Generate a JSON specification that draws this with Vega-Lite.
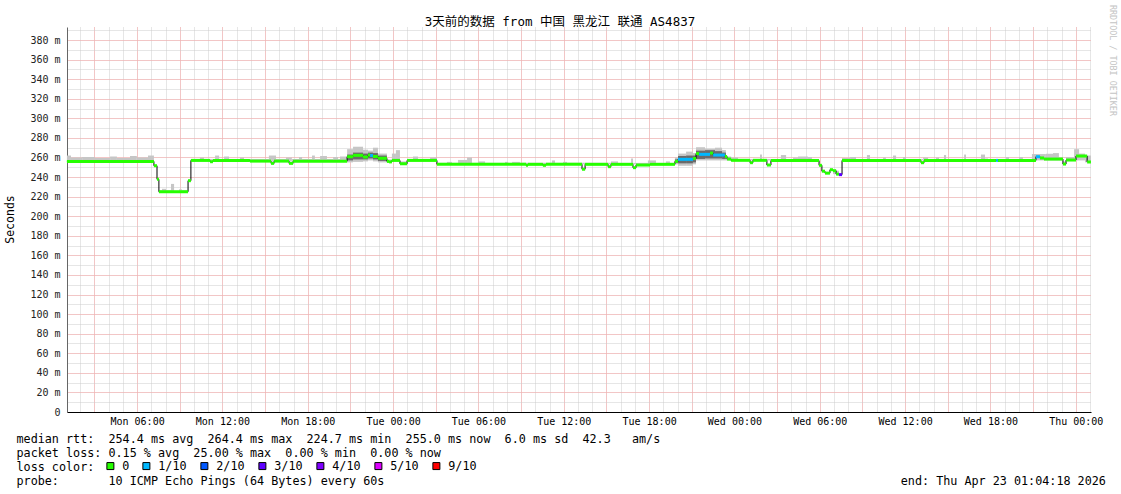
{
"$schema": "https://vega.github.io/schema/vega-lite/v6.json",
"width": 1024, "height": 385,
"autosize": {"type": "none"},
"padding": {"left": 67, "top": 27, "right": 30, "bottom": 82},
"background": "white",
"title": {"text": "3天前的数据 from 中国 黑龙江 联通 AS4837", "font": "DejaVu Sans Mono, Noto Sans CJK SC", "fontSize": 12.5, "fontWeight": "normal", "color": "#000", "anchor": "middle", "frame": "group", "dx": -19, "baseline": "middle", "offset": -30},
"datasets": {
"median": [
{"t":"2026-04-20T01:04Z","t2":"2026-04-20T07:11Z","m":256,"loss":"0"},
{"t":"2026-04-20T07:11Z","t2":"2026-04-20T07:24Z","m":251.6,"loss":"0"},
{"t":"2026-04-20T07:24Z","t2":"2026-04-20T07:32Z","m":237.7,"loss":"0"},
{"t":"2026-04-20T07:32Z","t2":"2026-04-20T09:35Z","m":225,"loss":"0"},
{"t":"2026-04-20T09:35Z","t2":"2026-04-20T09:47Z","m":236.3,"loss":"0"},
{"t":"2026-04-20T09:47Z","t2":"2026-04-20T11:08Z","m":257,"loss":"0"},
{"t":"2026-04-20T11:08Z","t2":"2026-04-20T11:20Z","m":255.7,"loss":"0"},
{"t":"2026-04-20T11:20Z","t2":"2026-04-20T13:56Z","m":257,"loss":"0"},
{"t":"2026-04-20T13:56Z","t2":"2026-04-20T15:25Z","m":256.3,"loss":"0"},
{"t":"2026-04-20T15:25Z","t2":"2026-04-20T15:38Z","m":254,"loss":"0"},
{"t":"2026-04-20T15:38Z","t2":"2026-04-20T16:41Z","m":256.3,"loss":"0"},
{"t":"2026-04-20T16:41Z","t2":"2026-04-20T16:58Z","m":254,"loss":"0"},
{"t":"2026-04-20T16:58Z","t2":"2026-04-20T20:46Z","m":256.2,"loss":"0"},
{"t":"2026-04-20T20:46Z","t2":"2026-04-20T21:11Z","m":260.8,"loss":"0"},
{"t":"2026-04-20T21:11Z","t2":"2026-04-20T21:53Z","m":262.2,"loss":"0"},
{"t":"2026-04-20T21:53Z","t2":"2026-04-20T22:14Z","m":260.5,"loss":"0"},
{"t":"2026-04-20T22:14Z","t2":"2026-04-20T22:23Z","m":262.5,"loss":"0"},
{"t":"2026-04-20T22:23Z","t2":"2026-04-20T22:35Z","m":262,"loss":"1/10"},
{"t":"2026-04-20T22:35Z","t2":"2026-04-20T22:56Z","m":261,"loss":"0"},
{"t":"2026-04-20T22:56Z","t2":"2026-04-20T23:34Z","m":259.2,"loss":"0"},
{"t":"2026-04-20T23:34Z","t2":"2026-04-20T23:43Z","m":256,"loss":"0"},
{"t":"2026-04-20T23:43Z","t2":"2026-04-20T23:55Z","m":255.5,"loss":"0"},
{"t":"2026-04-20T23:55Z","t2":"2026-04-21T00:29Z","m":257,"loss":"0"},
{"t":"2026-04-21T00:29Z","t2":"2026-04-21T00:59Z","m":253.6,"loss":"0"},
{"t":"2026-04-21T00:59Z","t2":"2026-04-21T03:05Z","m":257,"loss":"0"},
{"t":"2026-04-21T03:05Z","t2":"2026-04-21T09:21Z","m":253,"loss":"0"},
{"t":"2026-04-21T09:21Z","t2":"2026-04-21T09:29Z","m":252,"loss":"0"},
{"t":"2026-04-21T09:29Z","t2":"2026-04-21T10:32Z","m":253,"loss":"0"},
{"t":"2026-04-21T10:32Z","t2":"2026-04-21T10:45Z","m":252,"loss":"0"},
{"t":"2026-04-21T10:45Z","t2":"2026-04-21T13:17Z","m":253,"loss":"0"},
{"t":"2026-04-21T13:17Z","t2":"2026-04-21T13:30Z","m":248,"loss":"0"},
{"t":"2026-04-21T13:30Z","t2":"2026-04-21T15:07Z","m":253,"loss":"0"},
{"t":"2026-04-21T15:07Z","t2":"2026-04-21T15:19Z","m":250.6,"loss":"0"},
{"t":"2026-04-21T15:19Z","t2":"2026-04-21T16:52Z","m":253,"loss":"0"},
{"t":"2026-04-21T16:52Z","t2":"2026-04-21T17:05Z","m":249.6,"loss":"0"},
{"t":"2026-04-21T17:05Z","t2":"2026-04-21T18:04Z","m":252.3,"loss":"0"},
{"t":"2026-04-21T18:04Z","t2":"2026-04-21T19:49Z","m":253,"loss":"0"},
{"t":"2026-04-21T19:49Z","t2":"2026-04-21T20:02Z","m":256,"loss":"0"},
{"t":"2026-04-21T20:02Z","t2":"2026-04-21T21:05Z","m":258.1,"loss":"1/10"},
{"t":"2026-04-21T21:05Z","t2":"2026-04-21T21:18Z","m":259,"loss":"0"},
{"t":"2026-04-21T21:18Z","t2":"2026-04-21T21:31Z","m":264,"loss":"0"},
{"t":"2026-04-21T21:31Z","t2":"2026-04-21T22:17Z","m":263.2,"loss":"1/10"},
{"t":"2026-04-21T22:17Z","t2":"2026-04-21T22:30Z","m":264.5,"loss":"0"},
{"t":"2026-04-21T22:30Z","t2":"2026-04-21T23:20Z","m":262.5,"loss":"1/10"},
{"t":"2026-04-21T23:20Z","t2":"2026-04-21T23:29Z","m":261,"loss":"0"},
{"t":"2026-04-21T23:29Z","t2":"2026-04-21T23:46Z","m":258.4,"loss":"0"},
{"t":"2026-04-21T23:46Z","t2":"2026-04-22T01:06Z","m":257.1,"loss":"0"},
{"t":"2026-04-22T01:06Z","t2":"2026-04-22T01:18Z","m":254.7,"loss":"0"},
{"t":"2026-04-22T01:18Z","t2":"2026-04-22T02:17Z","m":257.1,"loss":"0"},
{"t":"2026-04-22T02:17Z","t2":"2026-04-22T02:34Z","m":252.3,"loss":"0"},
{"t":"2026-04-22T02:34Z","t2":"2026-04-22T05:57Z","m":256.8,"loss":"0"},
{"t":"2026-04-22T05:57Z","t2":"2026-04-22T06:09Z","m":252,"loss":"0"},
{"t":"2026-04-22T06:09Z","t2":"2026-04-22T06:22Z","m":246,"loss":"0"},
{"t":"2026-04-22T06:22Z","t2":"2026-04-22T06:43Z","m":244,"loss":"0"},
{"t":"2026-04-22T06:43Z","t2":"2026-04-22T06:56Z","m":247.5,"loss":"0"},
{"t":"2026-04-22T06:56Z","t2":"2026-04-22T07:09Z","m":246.5,"loss":"0"},
{"t":"2026-04-22T07:09Z","t2":"2026-04-22T07:21Z","m":243,"loss":"0"},
{"t":"2026-04-22T07:21Z","t2":"2026-04-22T07:34Z","m":242.5,"loss":"3/10"},
{"t":"2026-04-22T07:34Z","t2":"2026-04-22T13:07Z","m":257,"loss":"0"},
{"t":"2026-04-22T13:07Z","t2":"2026-04-22T13:20Z","m":254.7,"loss":"0"},
{"t":"2026-04-22T13:20Z","t2":"2026-04-22T18:24Z","m":257,"loss":"0"},
{"t":"2026-04-22T18:24Z","t2":"2026-04-22T18:32Z","m":257,"loss":"1/10"},
{"t":"2026-04-22T18:32Z","t2":"2026-04-22T21:12Z","m":257,"loss":"0"},
{"t":"2026-04-22T21:12Z","t2":"2026-04-22T21:29Z","m":260.8,"loss":"1/10"},
{"t":"2026-04-22T21:29Z","t2":"2026-04-22T21:46Z","m":259.5,"loss":"0"},
{"t":"2026-04-22T21:46Z","t2":"2026-04-22T23:06Z","m":258.4,"loss":"0"},
{"t":"2026-04-22T23:06Z","t2":"2026-04-22T23:19Z","m":253.3,"loss":"0"},
{"t":"2026-04-22T23:19Z","t2":"2026-04-23T00:01Z","m":257.4,"loss":"0"},
{"t":"2026-04-23T00:01Z","t2":"2026-04-23T00:48Z","m":261.5,"loss":"0"},
{"t":"2026-04-23T00:48Z","t2":"2026-04-23T01:04Z","m":255.4,"loss":"0"}
],
"smoke": [
{"t":"2026-04-20T01:04Z","t2":"2026-04-20T01:21Z","lo":256,"hi":262},
{"t":"2026-04-20T01:21Z","t2":"2026-04-20T02:08Z","lo":256,"hi":260},
{"t":"2026-04-20T02:08Z","t2":"2026-04-20T03:02Z","lo":256,"hi":260.5},
{"t":"2026-04-20T03:02Z","t2":"2026-04-20T04:06Z","lo":256,"hi":259.5},
{"t":"2026-04-20T04:06Z","t2":"2026-04-20T04:35Z","lo":256,"hi":261},
{"t":"2026-04-20T04:35Z","t2":"2026-04-20T05:30Z","lo":256,"hi":259.5},
{"t":"2026-04-20T05:30Z","t2":"2026-04-20T05:59Z","lo":256,"hi":261.5},
{"t":"2026-04-20T05:59Z","t2":"2026-04-20T06:46Z","lo":256,"hi":260},
{"t":"2026-04-20T06:46Z","t2":"2026-04-20T07:11Z","lo":256,"hi":262},
{"t":"2026-04-20T07:32Z","t2":"2026-04-20T07:45Z","lo":225,"hi":226.5},
{"t":"2026-04-20T07:45Z","t2":"2026-04-20T08:02Z","lo":225,"hi":228},
{"t":"2026-04-20T08:02Z","t2":"2026-04-20T08:23Z","lo":225,"hi":226.5},
{"t":"2026-04-20T08:23Z","t2":"2026-04-20T08:36Z","lo":225,"hi":233},
{"t":"2026-04-20T08:36Z","t2":"2026-04-20T08:57Z","lo":225,"hi":226},
{"t":"2026-04-20T08:57Z","t2":"2026-04-20T09:09Z","lo":225,"hi":227.5},
{"t":"2026-04-20T09:09Z","t2":"2026-04-20T09:35Z","lo":225,"hi":226.5},
{"t":"2026-04-20T09:47Z","t2":"2026-04-20T10:25Z","lo":257,"hi":258.5},
{"t":"2026-04-20T10:25Z","t2":"2026-04-20T10:42Z","lo":257,"hi":260},
{"t":"2026-04-20T10:42Z","t2":"2026-04-20T11:29Z","lo":257,"hi":258.5},
{"t":"2026-04-20T11:29Z","t2":"2026-04-20T11:46Z","lo":257,"hi":262},
{"t":"2026-04-20T11:46Z","t2":"2026-04-20T12:07Z","lo":257,"hi":258.5},
{"t":"2026-04-20T12:07Z","t2":"2026-04-20T12:28Z","lo":257,"hi":261},
{"t":"2026-04-20T12:28Z","t2":"2026-04-20T13:14Z","lo":257,"hi":258.5},
{"t":"2026-04-20T13:14Z","t2":"2026-04-20T13:31Z","lo":257,"hi":260},
{"t":"2026-04-20T13:31Z","t2":"2026-04-20T13:56Z","lo":257,"hi":258.5},
{"t":"2026-04-20T13:56Z","t2":"2026-04-20T15:16Z","lo":256,"hi":258.5},
{"t":"2026-04-20T15:16Z","t2":"2026-04-20T15:46Z","lo":256,"hi":262},
{"t":"2026-04-20T15:46Z","t2":"2026-04-20T16:28Z","lo":256,"hi":258.5},
{"t":"2026-04-20T16:28Z","t2":"2026-04-20T16:53Z","lo":256,"hi":260},
{"t":"2026-04-20T16:53Z","t2":"2026-04-20T17:23Z","lo":256,"hi":258.5},
{"t":"2026-04-20T17:23Z","t2":"2026-04-20T17:36Z","lo":256,"hi":260.5},
{"t":"2026-04-20T17:36Z","t2":"2026-04-20T18:18Z","lo":256,"hi":258.5},
{"t":"2026-04-20T18:18Z","t2":"2026-04-20T18:30Z","lo":256,"hi":262},
{"t":"2026-04-20T18:30Z","t2":"2026-04-20T18:52Z","lo":256,"hi":258.5},
{"t":"2026-04-20T18:52Z","t2":"2026-04-20T19:21Z","lo":256,"hi":261.5},
{"t":"2026-04-20T19:21Z","t2":"2026-04-20T19:47Z","lo":256,"hi":258.5},
{"t":"2026-04-20T19:47Z","t2":"2026-04-20T20:08Z","lo":256,"hi":260.5},
{"t":"2026-04-20T20:08Z","t2":"2026-04-20T20:16Z","lo":256,"hi":258.5},
{"t":"2026-04-20T20:16Z","t2":"2026-04-20T20:46Z","lo":256,"hi":261},
{"t":"2026-04-20T20:46Z","t2":"2026-04-20T21:11Z","lo":255,"hi":268.5,"lo2":257,"hi2":263},
{"t":"2026-04-20T21:11Z","t2":"2026-04-20T21:53Z","lo":255.5,"hi":271,"lo2":258,"hi2":265},
{"t":"2026-04-20T21:53Z","t2":"2026-04-20T22:14Z","lo":256,"hi":268,"lo2":258,"hi2":264},
{"t":"2026-04-20T22:14Z","t2":"2026-04-20T22:35Z","lo":257,"hi":267,"lo2":259,"hi2":265},
{"t":"2026-04-20T22:35Z","t2":"2026-04-20T22:56Z","lo":256,"hi":270,"lo2":258,"hi2":264.5},
{"t":"2026-04-20T22:56Z","t2":"2026-04-20T23:34Z","lo":255,"hi":264,"lo2":256.5,"hi2":262},
{"t":"2026-04-20T23:34Z","t2":"2026-04-20T23:55Z","lo":255,"hi":258},
{"t":"2026-04-20T23:55Z","t2":"2026-04-21T00:12Z","lo":257,"hi":264},
{"t":"2026-04-21T00:12Z","t2":"2026-04-21T00:29Z","lo":257,"hi":267.5},
{"t":"2026-04-21T00:29Z","t2":"2026-04-21T00:59Z","lo":253,"hi":256},
{"t":"2026-04-21T00:59Z","t2":"2026-04-21T01:24Z","lo":257,"hi":258.5},
{"t":"2026-04-21T01:24Z","t2":"2026-04-21T01:45Z","lo":257,"hi":261},
{"t":"2026-04-21T01:45Z","t2":"2026-04-21T02:36Z","lo":257,"hi":258.5},
{"t":"2026-04-21T02:36Z","t2":"2026-04-21T03:05Z","lo":257,"hi":260},
{"t":"2026-04-21T03:05Z","t2":"2026-04-21T03:47Z","lo":253,"hi":254.5},
{"t":"2026-04-21T03:47Z","t2":"2026-04-21T04:08Z","lo":253,"hi":255.5},
{"t":"2026-04-21T04:08Z","t2":"2026-04-21T04:34Z","lo":253,"hi":254.5},
{"t":"2026-04-21T04:34Z","t2":"2026-04-21T05:12Z","lo":253,"hi":257.5},
{"t":"2026-04-21T05:12Z","t2":"2026-04-21T05:33Z","lo":253,"hi":260},
{"t":"2026-04-21T05:33Z","t2":"2026-04-21T05:58Z","lo":253,"hi":254.5},
{"t":"2026-04-21T05:58Z","t2":"2026-04-21T06:28Z","lo":253,"hi":256},
{"t":"2026-04-21T06:28Z","t2":"2026-04-21T07:52Z","lo":253,"hi":254.5},
{"t":"2026-04-21T07:52Z","t2":"2026-04-21T08:05Z","lo":253,"hi":255.5},
{"t":"2026-04-21T08:05Z","t2":"2026-04-21T08:22Z","lo":253,"hi":254.5},
{"t":"2026-04-21T08:22Z","t2":"2026-04-21T08:55Z","lo":253,"hi":255.5},
{"t":"2026-04-21T08:55Z","t2":"2026-04-21T11:10Z","lo":253,"hi":254.5},
{"t":"2026-04-21T11:10Z","t2":"2026-04-21T11:23Z","lo":253,"hi":257},
{"t":"2026-04-21T11:23Z","t2":"2026-04-21T11:57Z","lo":253,"hi":254.5},
{"t":"2026-04-21T11:57Z","t2":"2026-04-21T12:14Z","lo":253,"hi":255.5},
{"t":"2026-04-21T12:14Z","t2":"2026-04-21T15:19Z","lo":253,"hi":254.5},
{"t":"2026-04-21T15:19Z","t2":"2026-04-21T15:49Z","lo":253,"hi":256},
{"t":"2026-04-21T15:49Z","t2":"2026-04-21T16:44Z","lo":253,"hi":254.5},
{"t":"2026-04-21T16:44Z","t2":"2026-04-21T16:52Z","lo":253,"hi":259},
{"t":"2026-04-21T16:52Z","t2":"2026-04-21T17:55Z","lo":253,"hi":254.5},
{"t":"2026-04-21T17:55Z","t2":"2026-04-21T18:29Z","lo":253,"hi":257},
{"t":"2026-04-21T18:29Z","t2":"2026-04-21T19:11Z","lo":253,"hi":254.5},
{"t":"2026-04-21T19:11Z","t2":"2026-04-21T19:28Z","lo":253,"hi":256},
{"t":"2026-04-21T19:28Z","t2":"2026-04-21T19:49Z","lo":253,"hi":254.5},
{"t":"2026-04-21T19:49Z","t2":"2026-04-21T20:02Z","lo":253,"hi":260,"lo2":254.5,"hi2":258},
{"t":"2026-04-21T20:02Z","t2":"2026-04-21T20:36Z","lo":251.5,"hi":264,"lo2":254,"hi2":261.5},
{"t":"2026-04-21T20:36Z","t2":"2026-04-21T21:05Z","lo":251.5,"hi":266,"lo2":254,"hi2":262},
{"t":"2026-04-21T21:05Z","t2":"2026-04-21T21:18Z","lo":253,"hi":264.5,"lo2":255,"hi2":262},
{"t":"2026-04-21T21:18Z","t2":"2026-04-21T21:56Z","lo":257,"hi":270.5,"lo2":258.5,"hi2":267},
{"t":"2026-04-21T21:56Z","t2":"2026-04-21T22:38Z","lo":257,"hi":269,"lo2":259,"hi2":267.5},
{"t":"2026-04-21T22:38Z","t2":"2026-04-21T23:08Z","lo":257,"hi":270,"lo2":259,"hi2":266.5},
{"t":"2026-04-21T23:08Z","t2":"2026-04-21T23:24Z","lo":257,"hi":267.5,"lo2":258.5,"hi2":265},
{"t":"2026-04-21T23:24Z","t2":"2026-04-21T23:46Z","lo":257,"hi":261},
{"t":"2026-04-21T23:46Z","t2":"2026-04-22T00:15Z","lo":257,"hi":260},
{"t":"2026-04-22T00:15Z","t2":"2026-04-22T01:48Z","lo":257,"hi":258.5},
{"t":"2026-04-22T01:48Z","t2":"2026-04-22T01:56Z","lo":257,"hi":263},
{"t":"2026-04-22T01:56Z","t2":"2026-04-22T03:16Z","lo":257,"hi":258.5},
{"t":"2026-04-22T03:16Z","t2":"2026-04-22T03:38Z","lo":257,"hi":262.5},
{"t":"2026-04-22T03:38Z","t2":"2026-04-22T04:07Z","lo":257,"hi":258.5},
{"t":"2026-04-22T04:07Z","t2":"2026-04-22T04:28Z","lo":257,"hi":260},
{"t":"2026-04-22T04:28Z","t2":"2026-04-22T05:10Z","lo":257,"hi":261},
{"t":"2026-04-22T05:10Z","t2":"2026-04-22T05:27Z","lo":257,"hi":260.5},
{"t":"2026-04-22T05:27Z","t2":"2026-04-22T05:57Z","lo":257,"hi":258.5},
{"t":"2026-04-22T06:56Z","t2":"2026-04-22T07:21Z","lo":243,"hi":246.5},
{"t":"2026-04-22T07:34Z","t2":"2026-04-22T08:08Z","lo":257,"hi":259.5},
{"t":"2026-04-22T08:08Z","t2":"2026-04-22T08:33Z","lo":257,"hi":260.5},
{"t":"2026-04-22T08:33Z","t2":"2026-04-22T09:19Z","lo":257,"hi":258.5},
{"t":"2026-04-22T09:19Z","t2":"2026-04-22T09:32Z","lo":257,"hi":262.5},
{"t":"2026-04-22T09:32Z","t2":"2026-04-22T10:27Z","lo":257,"hi":258.5},
{"t":"2026-04-22T10:27Z","t2":"2026-04-22T10:39Z","lo":257,"hi":260},
{"t":"2026-04-22T10:39Z","t2":"2026-04-22T11:09Z","lo":257,"hi":258.5},
{"t":"2026-04-22T11:09Z","t2":"2026-04-22T11:22Z","lo":257,"hi":262},
{"t":"2026-04-22T11:22Z","t2":"2026-04-22T11:51Z","lo":257,"hi":258.5},
{"t":"2026-04-22T11:51Z","t2":"2026-04-22T12:04Z","lo":257,"hi":260.5},
{"t":"2026-04-22T12:04Z","t2":"2026-04-22T13:16Z","lo":257,"hi":258.5},
{"t":"2026-04-22T13:16Z","t2":"2026-04-22T13:37Z","lo":257,"hi":260},
{"t":"2026-04-22T13:37Z","t2":"2026-04-22T14:10Z","lo":257,"hi":258.5},
{"t":"2026-04-22T14:10Z","t2":"2026-04-22T14:23Z","lo":257,"hi":260},
{"t":"2026-04-22T14:23Z","t2":"2026-04-22T14:44Z","lo":257,"hi":258.5},
{"t":"2026-04-22T14:44Z","t2":"2026-04-22T14:53Z","lo":257,"hi":262.5},
{"t":"2026-04-22T14:53Z","t2":"2026-04-22T16:09Z","lo":257,"hi":258.5},
{"t":"2026-04-22T16:09Z","t2":"2026-04-22T16:17Z","lo":257,"hi":263},
{"t":"2026-04-22T16:17Z","t2":"2026-04-22T17:20Z","lo":257,"hi":258.5},
{"t":"2026-04-22T17:20Z","t2":"2026-04-22T17:37Z","lo":257,"hi":263},
{"t":"2026-04-22T17:37Z","t2":"2026-04-22T17:50Z","lo":257,"hi":259},
{"t":"2026-04-22T17:50Z","t2":"2026-04-22T19:06Z","lo":257,"hi":258.5},
{"t":"2026-04-22T19:06Z","t2":"2026-04-22T19:18Z","lo":257,"hi":260.5},
{"t":"2026-04-22T19:18Z","t2":"2026-04-22T20:01Z","lo":257,"hi":258.5},
{"t":"2026-04-22T20:01Z","t2":"2026-04-22T20:17Z","lo":257,"hi":260.5},
{"t":"2026-04-22T20:17Z","t2":"2026-04-22T20:55Z","lo":257,"hi":258.5},
{"t":"2026-04-22T20:55Z","t2":"2026-04-22T21:54Z","lo":257,"hi":263.5},
{"t":"2026-04-22T21:54Z","t2":"2026-04-22T22:24Z","lo":257,"hi":263.8},
{"t":"2026-04-22T22:24Z","t2":"2026-04-22T22:49Z","lo":257,"hi":264.5},
{"t":"2026-04-22T22:49Z","t2":"2026-04-22T23:06Z","lo":257,"hi":260},
{"t":"2026-04-22T23:06Z","t2":"2026-04-22T23:19Z","lo":253,"hi":256},
{"t":"2026-04-22T23:19Z","t2":"2026-04-22T23:53Z","lo":257,"hi":260.5},
{"t":"2026-04-22T23:53Z","t2":"2026-04-23T00:14Z","lo":257,"hi":268.5},
{"t":"2026-04-23T00:14Z","t2":"2026-04-23T00:39Z","lo":257,"hi":264},
{"t":"2026-04-23T00:39Z","t2":"2026-04-23T01:04Z","lo":255,"hi":262}
]
},
"layer": [
{
"data": {"name": "smoke"},
"mark": {"type": "rect", "fill": "#c6c6c6"},
"encoding": {
"x": {"field": "t", "type": "temporal", "scale": {"type": "utc", "domain": ["2026-04-20T01:04:18Z", "2026-04-23T01:04:18Z"], "nice": false},
"axis": {"orient": "bottom", "tickCount": 72, "labels": false, "ticks": false, "domain": false, "grid": true, "gridColor": "#cdcdcd", "gridDash": [1, 1], "title": null}},
"x2": {"field": "t2"},
"y": {"field": "lo", "type": "quantitative", "scale": {"domain": [0, 393.3], "nice": false, "zero": true},
"axis": {"orient": "left", "values": [0,10,20,30,40,50,60,70,80,90,100,110,120,130,140,150,160,170,180,190,200,210,220,230,240,250,260,270,280,290,300,310,320,330,340,350,360,370,380,390], "labels": false, "ticks": false, "domain": false, "grid": true, "gridColor": "#cdcdcd", "gridDash": [1, 1], "title": null}},
"y2": {"field": "hi"}
}
},
{
"data": {"name": "smoke"},
"mark": {"type": "rect", "fill": "#6a6a6a"},
"encoding": {
"x": {"field": "t", "type": "temporal",
"axis": {"orient": "bottom", "tickCount": 24, "labels": false, "ticks": false, "domain": false, "grid": true, "gridColor": "#ffa6a6", "gridDash": [1, 1], "title": null}},
"x2": {"field": "t2"},
"y": {"field": "lo2", "type": "quantitative",
"axis": {"orient": "left", "values": [0,20,40,60,80,100,120,140,160,180,200,220,240,260,280,300,320,340,360,380], "labelExpr": "datum.value == 0 ? '0' : datum.value + ' m'", "labelFont": "DejaVu Sans Mono", "labelFontSize": 10, "labelColor": "#222", "labelPadding": 7, "ticks": false, "domain": true, "domainColor": "#666", "grid": true, "gridColor": "#ffa6a6", "gridDash": [1, 1],
"title": "Seconds", "titleFont": "DejaVu Sans Mono", "titleFontSize": 11.5, "titleFontWeight": "normal", "titleColor": "#000", "titleX": -57, "titleY": 192, "titleAngle": -90, "titleAlign": "center", "titleBaseline": "middle"}},
"y2": {"field": "hi2"}
}
},
{
"data": {"name": "median"},
"mark": {"type": "line", "interpolate": "step-after", "color": "#000", "strokeWidth": 1},
"encoding": {
"x": {"field": "t", "type": "temporal",
"axis": {"orient": "bottom", "tickCount": 12, "format": "%a %H:%M", "labelFont": "DejaVu Sans Mono", "labelFontSize": 10, "labelColor": "#000", "labelPadding": 4, "labelFlush": false, "labelOverlap": false, "ticks": false, "domain": true, "domainColor": "#000", "grid": false,
"title": ["median rtt:\u00a0\u00a0254.4 ms avg\u00a0\u00a0264.4 ms max\u00a0\u00a0224.7 ms min\u00a0\u00a0255.0 ms now\u00a0\u00a06.0 ms sd\u00a0\u00a042.3\u00a0\u00a0\u00a0am/s", "packet loss: 0.15 % avg\u00a0\u00a025.00 % max\u00a0\u00a00.00 % min\u00a0\u00a00.00 % now", "loss color:", "probe:\u00a0\u00a0\u00a0\u00a0\u00a0\u00a0\u00a010 ICMP Echo Pings (64 Bytes) every 60s\u00a0\u00a0\u00a0\u00a0\u00a0\u00a0\u00a0\u00a0\u00a0\u00a0\u00a0\u00a0\u00a0\u00a0\u00a0\u00a0\u00a0\u00a0\u00a0\u00a0\u00a0\u00a0\u00a0\u00a0\u00a0\u00a0\u00a0\u00a0\u00a0\u00a0\u00a0\u00a0\u00a0\u00a0\u00a0\u00a0\u00a0\u00a0\u00a0\u00a0\u00a0\u00a0\u00a0\u00a0\u00a0\u00a0\u00a0\u00a0\u00a0\u00a0\u00a0\u00a0\u00a0\u00a0\u00a0\u00a0\u00a0\u00a0\u00a0\u00a0\u00a0\u00a0\u00a0\u00a0\u00a0\u00a0\u00a0\u00a0\u00a0\u00a0\u00a0\u00a0\u00a0end: Thu Apr 23 01:04:18 2026"],
"titleFont": "DejaVu Sans Mono", "titleFontSize": 11.75, "titleFontWeight": "normal", "titleColor": "#000", "titleAnchor": "start", "titleAlign": "left", "titleBaseline": "alphabetic", "titleX": -51, "titleY": 30, "titleLineHeight": 14}},
"y": {"field": "m", "type": "quantitative",
"axis": {"orient": "right", "labels": false, "ticks": false, "domain": false, "grid": false, "title": "RRDTOOL / TOBI OETIKER", "titleFont": "DejaVu Sans Mono", "titleFontSize": 8.4, "titleFontWeight": "normal", "titleColor": "#c4c4c4", "titleAngle": 90, "titleX": 21, "titleY": 33, "titleAlign": "center", "titleBaseline": "middle"}}
}
},
{
"data": {"name": "median"},
"mark": {"type": "rect", "yOffset": -1.5, "y2Offset": 1.5},
"encoding": {
"x": {"field": "t", "type": "temporal", "axis": null},
"x2": {"field": "t2"},
"y": {"field": "m", "type": "quantitative", "axis": null},
"y2": {"field": "m"},
"fill": {"field": "loss", "type": "nominal", "scale": {"domain": ["0", "1/10", "2/10", "3/10", "4/10", "5/10", "9/10"], "range": ["#26ff00", "#00b8ff", "#0059ff", "#5e00ff", "#7e00ff", "#dd00ff", "#ff0000"]},
"legend": {"orient": "none", "legendX": 37.5, "legendY": 433, "direction": "horizontal", "title": null, "gridAlign": "each", "columnPadding": 11, "labelOffset": 6, "symbolType": "square", "symbolSize": 49, "symbolStrokeColor": "#000", "symbolStrokeWidth": 1, "labelFont": "DejaVu Sans Mono", "labelFontSize": 11.75, "labelColor": "#000"}}
}
}
],
"resolve": {"axis": {"x": "independent", "y": "independent"}},
"config": {"view": {"stroke": null}, "font": "DejaVu Sans Mono"}
}
